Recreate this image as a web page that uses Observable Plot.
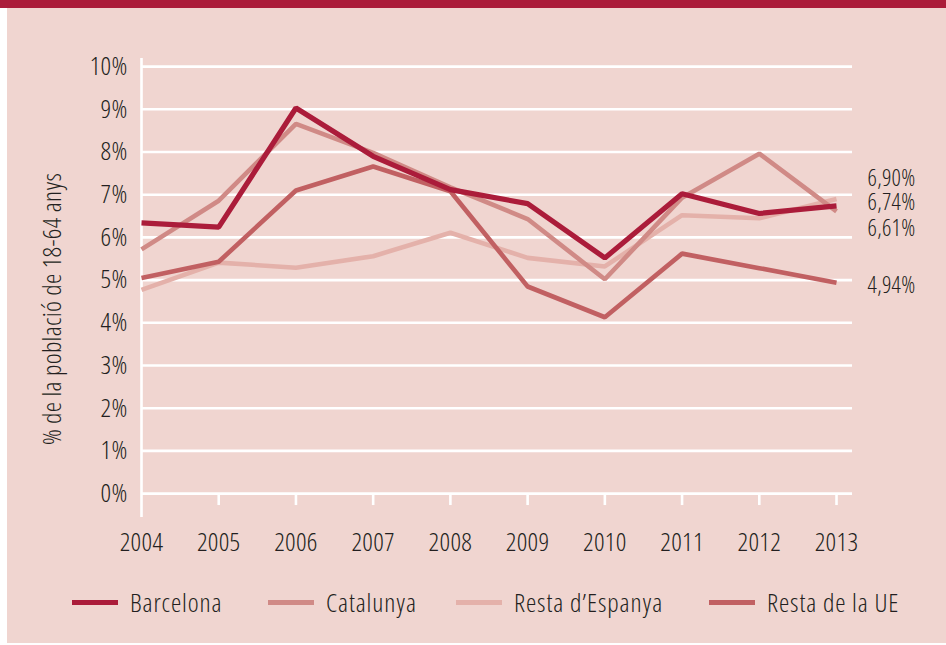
<!DOCTYPE html>
<html>
<head>
<meta charset="utf-8">
<script src="https://cdn.jsdelivr.net/npm/d3@7"></script>
<script src="https://cdn.jsdelivr.net/npm/@observablehq/plot@0.6"></script>
<style>
  body { margin: 0; background: #ffffff; }
  #wrap { position: relative; width: 946px; height: 645px; overflow: hidden; font-family: "Open Sans", "DejaVu Sans Condensed", sans-serif; font-stretch: 75%; font-weight: 300; }
  #band { position: absolute; left: 0; top: 0; width: 946px; height: 8px; background: #ab1c3a; }
  #panel { position: absolute; left: 7px; top: 8px; width: 939px; height: 635px; background: #f0d5d0; }
  #chart { position: absolute; left: 0; top: 0; }
  .leg { position: absolute; top: 571px; height: 46px; display: flex; align-items: center; font-size: 26px; letter-spacing: 0.9px; color: #231f20; white-space: nowrap; }
  .sw { display: inline-block; width: 46px; height: 5px; margin-right: 12px; }
</style>
</head>
<body>
<div id="wrap">
  <div id="band"></div>
  <div id="panel">
    <div id="chart"></div>
    <div id="legend"></div>
  </div>
</div>
<script>
const years = [2004, 2005, 2006, 2007, 2008, 2009, 2010, 2011, 2012, 2013];
const barcelona    = [6.34, 6.24, 9.03, 7.90, 7.12, 6.79, 5.52, 7.02, 6.56, 6.74];
const catalunya    = [5.72, 6.86, 8.66, 7.98, 7.17, 6.43, 5.02, 6.93, 7.96, 6.61];
const restaEspanya = [4.77, 5.41, 5.29, 5.56, 6.11, 5.52, 5.32, 6.52, 6.45, 6.90];
const restaUE      = [5.05, 5.43, 7.10, 7.66, 7.08, 4.85, 4.13, 5.62, 5.28, 4.94];
const seriesNames  = ["Barcelona", "Catalunya", "Resta d’Espanya", "Resta de la UE"];
const yTicks = [0, 1, 2, 3, 4, 5, 6, 7, 8, 9, 10];
const yLabel = "% de la població de 18-64 anys";

const colors = {
  "Barcelona": "#ab1c3a",
  "Catalunya": "#d08a86",
  "Resta d’Espanya": "#e4b1aa",
  "Resta de la UE": "#c16062"
};
const widths = { "Barcelona": 5.2, "Catalunya": 4.6, "Resta d’Espanya": 4.6, "Resta de la UE": 4.6 };

const seriesValues = [barcelona, catalunya, restaEspanya, restaUE];
const table = seriesNames.map((name, i) => years.map((year, j) => ({ name, year, value: seriesValues[i][j] })));
const byName = Object.fromEntries(seriesNames.map((n, i) => [n, table[i]]));
const drawOrder = ["Resta d’Espanya", "Catalunya", "Resta de la UE", "Barcelona"];

const fmt = v => v.toFixed(2).replace(".", ",") + "%";
const last = name => [byName[name][byName[name].length - 1]];
// label vertical nudges (px) to avoid overlap, as in the original
const labelNudge = { "Resta d’Espanya": -20, "Barcelona": -3, "Catalunya": 17, "Resta de la UE": 3 };

const FONT = "'Open Sans', 'DejaVu Sans Condensed', sans-serif";
const chart = Plot.plot({
  width: 939,
  height: 560,
  marginLeft: 134,
  marginRight: 94,
  marginTop: 50,
  marginBottom: 51,
  style: { background: "transparent", fontFamily: FONT, fontStretch: "75%", fontWeight: 300, fontSize: "26px", letterSpacing: "0.3px", color: "#231f20" },
  x: { domain: [2004, 2013.207] },
  y: { domain: [-0.56, 10.19] },
  marks: [
    Plot.ruleY(yTicks, { stroke: "#ffffff", strokeWidth: 2.6 }),
    Plot.ruleX([years[0]], { stroke: "#ffffff", strokeWidth: 2.6 }),
    Plot.ruleX(years.slice(1), { y1: 0, y2: -0.28, stroke: "#ffffff", strokeWidth: 2.6 }),
    ...drawOrder.map(name => Plot.line(byName[name], {
      x: "year", y: "value",
      stroke: colors[name], strokeWidth: widths[name],
      strokeLinejoin: "miter", strokeLinecap: "butt"
    })),
    ...seriesNames.map(name => Plot.text(last(name), {
      x: "year", y: "value", text: d => fmt(d.value),
      textAnchor: "start", dx: 31, dy: labelNudge[name], fill: "#231f20", fontSize: 23, letterSpacing: "0.7px"
    })),
    Plot.axisY({ ticks: yTicks, tickFormat: d => d + "%", tickSize: 0, tickPadding: 14, label: null, fontSize: 26 }),
    Plot.axisX({ ticks: years, tickFormat: d => String(d), tickSize: 0, tickPadding: 15, label: null, fontSize: 26 }),
    Plot.text([yLabel], { frameAnchor: "left", textAnchor: "middle", rotate: -90, dx: -89, dy: 21, fill: "#231f20", fontSize: 26, letterSpacing: "0.8px" })
  ]
});
document.getElementById("chart").appendChild(chart);

const legendLeft = { "Barcelona": 65, "Catalunya": 261, "Resta d’Espanya": 449, "Resta de la UE": 702 };
const legend = document.getElementById("legend");
seriesNames.forEach(name => {
  const item = document.createElement("div");
  item.className = "leg";
  item.style.left = legendLeft[name] + "px";
  const sw = document.createElement("span");
  sw.className = "sw";
  sw.style.background = colors[name];
  const lab = document.createElement("span");
  lab.textContent = name;
  item.appendChild(sw);
  item.appendChild(lab);
  legend.appendChild(item);
});
</script>
</body>
</html>
